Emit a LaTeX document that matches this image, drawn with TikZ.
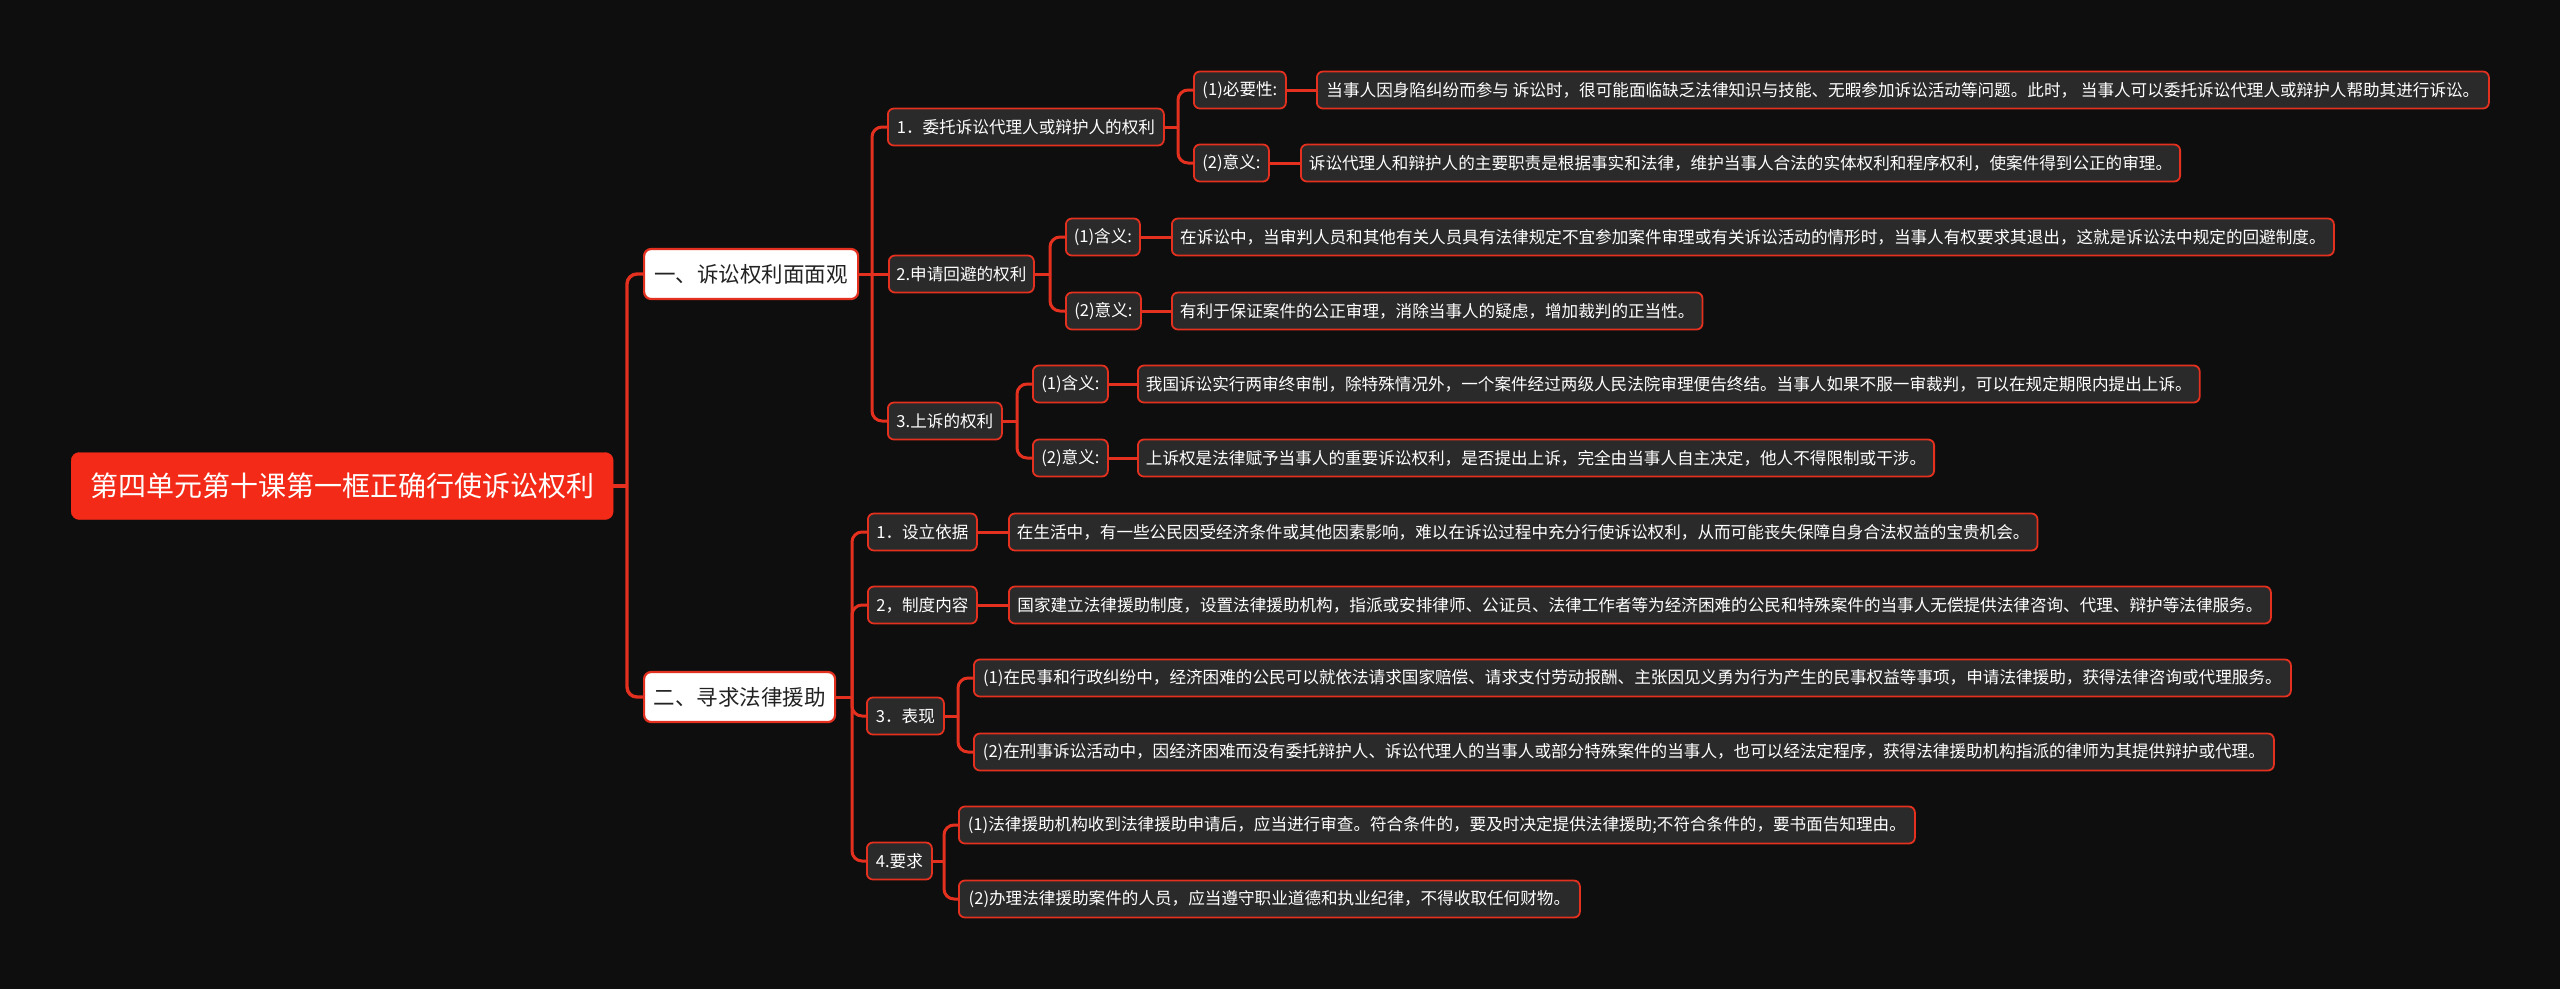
\documentclass[tikz,border=0pt]{standalone}
\usepackage{fontspec}
\newfontfamily\cjk{Noto Sans CJK SC}
\definecolor{bg}{HTML}{0E0E0E}
\definecolor{linered}{HTML}{E3301F}
\definecolor{rootred}{HTML}{F22A17}
\definecolor{boxgray}{HTML}{2A2A2A}
\definecolor{darktext}{HTML}{222222}
\begin{document}
\begin{tikzpicture}[x=1pt,y=-1pt,
  conn/.style={draw=linered, line width=3pt, rounded corners=10pt},
  rootbox/.style={fill=rootred, draw=rootred, rounded corners=8pt, text=white, anchor=west,
     font=\cjk\fontsize{28}{32}\selectfont, minimum height=67pt, inner xsep=4pt, inner ysep=0pt},
  mainbox/.style={fill=white, draw=linered, line width=2.2pt, rounded corners=7pt, text=darktext, anchor=west,
     font=\cjk\fontsize{21.5}{25}\selectfont, minimum height=50pt, inner xsep=4pt, inner ysep=0pt},
  itembox/.style={fill=boxgray, draw=linered, line width=1.8pt, rounded corners=6pt, text=white, anchor=west,
     font=\cjk\fontsize{16.6}{20}\selectfont, minimum height=37pt, inner xsep=4pt, inner ysep=0pt},
  leafbox/.style={itembox, inner xsep=8pt}
]
\fill[bg] (0,0) rectangle (2560,989);
\useasboundingbox (0,0) rectangle (2560,989);

% root and main branches
\node[rootbox, minimum width=542pt] (root) at (71,486) {第四单元第十课第一框正确行使诉讼权利};
\node[mainbox, minimum width=214pt] (m1) at (643,274) {一、诉讼权利面面观};
\node[mainbox, minimum width=191pt] (m2) at (643,697) {二、寻求法律援助};

% branch 1
\node[itembox, minimum width=276pt] (a) at (887,127) {1．委托诉讼代理人或辩护人的权利};
\node[itembox, minimum width=145pt] (b) at (888,274) {2.申请回避的权利};
\node[itembox, minimum width=114pt] (c) at (887,421) {3.上诉的权利};

\node[itembox, minimum width=92pt] (a1) at (1193,90) {(1)必要性:};
\node[itembox, minimum width=75pt] (a2) at (1193,163) {(2)意义:};
\node[leafbox, minimum width=1172pt] (la1) at (1316,90) {当事人因身陷纠纷而参与 诉讼时，很可能面临缺乏法律知识与技能、无暇参加诉讼活动等问题。此时， 当事人可以委托诉讼代理人或辩护人帮助其进行诉讼。};
\node[leafbox, minimum width=879pt] (la2) at (1300,163) {诉讼代理人和辩护人的主要职责是根据事实和法律，维护当事人合法的实体权利和程序权利，使案件得到公正的审理。};

\node[itembox, minimum width=74pt] (b1) at (1065,237) {(1)含义:};
\node[itembox, minimum width=75pt] (b2) at (1065,311) {(2)意义:};
\node[leafbox, minimum width=1162pt] (lb1) at (1171,237) {在诉讼中，当审判人员和其他有关人员具有法律规定不宜参加案件审理或有关诉讼活动的情形时，当事人有权要求其退出，这就是诉讼法中规定的回避制度。};
\node[leafbox, minimum width=530pt] (lb2) at (1171,311) {有利于保证案件的公正审理，消除当事人的疑虑，增加裁判的正当性。};

\node[itembox, minimum width=75pt] (c1) at (1032,384) {(1)含义:};
\node[itembox, minimum width=75pt] (c2) at (1032,458) {(2)意义:};
\node[leafbox, minimum width=1040pt] (lc1) at (1137,384) {我国诉讼实行两审终审制，除特殊情况外，一个案件经过两级人民法院审理便告终结。当事人如果不服一审裁判，可以在规定期限内提出上诉。};
\node[leafbox, minimum width=787pt] (lc2) at (1137,458) {上诉权是法律赋予当事人的重要诉讼权利，是否提出上诉，完全由当事人自主决定，他人不得限制或干涉。};

% branch 2
\node[itembox, minimum width=109pt] (d) at (867,532) {1．设立依据};
\node[itembox, minimum width=109pt] (e) at (867,605) {2，制度内容};
\node[itembox, minimum width=77pt] (f) at (866,716) {3．表现};
\node[itembox, minimum width=65pt] (g) at (866,861) {4.要求};

\node[leafbox, minimum width=1028pt] (ld) at (1008,532) {在生活中，有一些公民因受经济条件或其他因素影响，难以在诉讼过程中充分行使诉讼权利，从而可能丧失保障自身合法权益的宝贵机会。};
\node[leafbox, minimum width=1262pt] (le) at (1008,605) {国家建立法律援助制度，设置法律援助机构，指派或安排律师、公证员、法律工作者等为经济困难的公民和特殊案件的当事人无偿提供法律咨询、代理、辩护等法律服务。};
\node[leafbox, minimum width=1317pt] (lf1) at (973,678) {(1)在民事和行政纠纷中，经济困难的公民可以就依法请求国家赔偿、请求支付劳动报酬、主张因见义勇为行为产生的民事权益等事项，申请法律援助，获得法律咨询或代理服务。};
\node[leafbox, minimum width=1300pt] (lf2) at (973,752) {(2)在刑事诉讼活动中，因经济困难而没有委托辩护人、诉讼代理人的当事人或部分特殊案件的当事人，也可以经法定程序，获得法律援助机构指派的律师为其提供辩护或代理。};
\node[leafbox, minimum width=956pt] (lg1) at (958,825) {(1)法律援助机构收到法律援助申请后，应当进行审查。符合条件的，要及时决定提供法律援助;不符合条件的，要书面告知理由。};
\node[leafbox, minimum width=621pt] (lg2) at (958,899) {(2)办理法律援助案件的人员，应当遵守职业道德和执业纪律，不得收取任何财物。};

% junctions
\coordinate (j0) at (627,486);
\coordinate (j1) at (872,274);
\coordinate (j2) at (852,697);
\coordinate (ja) at (1178,127);
\coordinate (jb) at (1050,274);
\coordinate (jc) at (1017,421);
\coordinate (jf) at (958,716);
\coordinate (jg) at (944,861);

% connectors
\draw[conn, line width=3.4pt] (root.east) -- (j0);
\draw[conn, line width=3.4pt] (j0) |- (m1.west);
\draw[conn, line width=3.4pt] (j0) |- (m2.west);

\draw[conn] (m1.east) -- (j1);
\draw[conn] (j1) |- (a.west);
\draw[conn] (j1) -- (b.west);
\draw[conn] (j1) |- (c.west);

\draw[conn] (a.east) -- (ja);
\draw[conn] (ja) |- (a1.west);
\draw[conn] (ja) |- (a2.west);
\draw[conn] (a1.east) -- (la1.west);
\draw[conn] (a2.east) -- (la2.west);

\draw[conn] (b.east) -- (jb);
\draw[conn] (jb) |- (b1.west);
\draw[conn] (jb) |- (b2.west);
\draw[conn] (b1.east) -- (lb1.west);
\draw[conn] (b2.east) -- (lb2.west);

\draw[conn] (c.east) -- (jc);
\draw[conn] (jc) |- (c1.west);
\draw[conn] (jc) |- (c2.west);
\draw[conn] (c1.east) -- (lc1.west);
\draw[conn] (c2.east) -- (lc2.west);

\draw[conn] (m2.east) -- (j2);
\draw[conn] (j2) |- (d.west);
\draw[conn] (j2) |- (e.west);
\draw[conn] (j2) |- (f.west);
\draw[conn] (j2) |- (g.west);
\draw[conn] (d.east) -- (ld.west);
\draw[conn] (e.east) -- (le.west);

\draw[conn] (f.east) -- (jf);
\draw[conn] (jf) |- (lf1.west);
\draw[conn] (jf) |- (lf2.west);

\draw[conn] (g.east) -- (jg);
\draw[conn] (jg) |- (lg1.west);
\draw[conn] (jg) |- (lg2.west);
\end{tikzpicture}
\end{document}
